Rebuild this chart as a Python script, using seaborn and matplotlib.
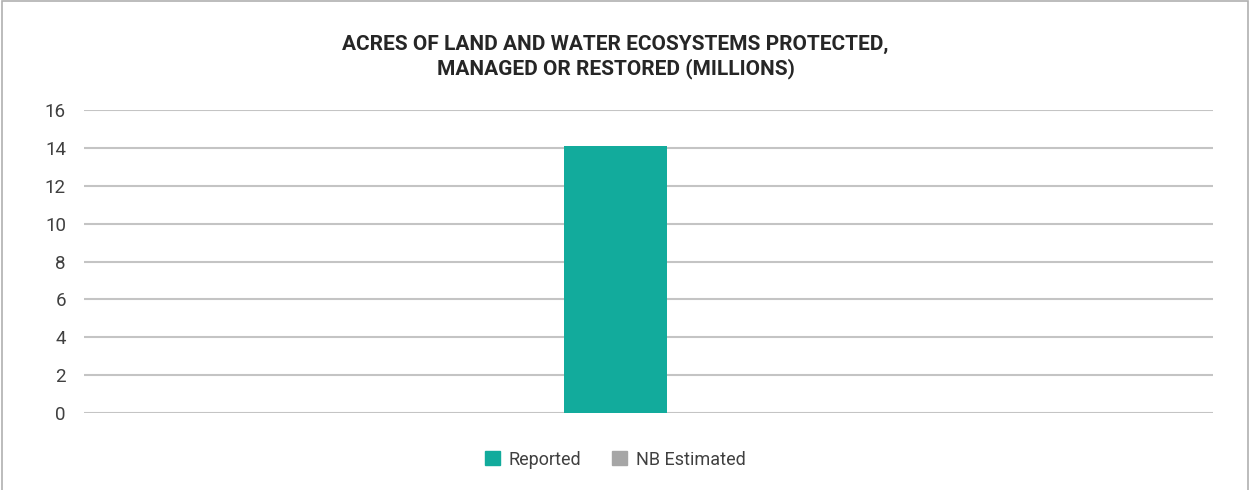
import matplotlib
matplotlib.use('Agg')
import matplotlib.pyplot as plt
import seaborn as sns
import pandas as pd

# data
category = ['Acres']
series = ['Reported', 'NB Estimated']
values = [14.1, 0.0]
colors = ['#12AB9C', '#A6A6A6']
yticks = [0, 2, 4, 6, 8, 10, 12, 14, 16]
title = 'ACRES OF LAND AND WATER ECOSYSTEMS PROTECTED,\nMANAGED OR RESTORED (MILLIONS)'

df = pd.DataFrame({'category': category * len(series), 'series': series, 'value': values})

sns.set_theme(style='white')
plt.rcParams['font.family'] = ['Roboto', 'DejaVu Sans']

fig = plt.figure(figsize=(12.5, 4.9), dpi=100)
ax = fig.add_axes([0.0672, 0.1571, 0.9032, 0.6184])

sns.barplot(data=df, x='category', y='value', hue='series', palette=colors,
            width=0.8, saturation=1, linewidth=0, ax=ax, legend=False)

ax.set_ylim(0, 16)
ax.set_xlim(-2.264, 2.120)
ax.set_yticks(yticks)
ax.set_yticklabels([str(t) for t in yticks], fontsize=13.5, color='#404040')
ax.set_xticks([])
ax.set_xlabel('')
ax.set_ylabel('')
ax.yaxis.grid(True, color='#c4c4c4', linewidth=1.5)
ax.set_axisbelow(True)
ax.tick_params(axis='y', length=0, pad=13)
for s in ax.spines.values():
    s.set_visible(False)

# title and legend are centred over the bar, not the figure
fig.text(0.4924, 0.884, title, ha='center', va='center', fontsize=15,
         fontweight='bold', color='#262626', linespacing=1.3)

handles = [plt.Rectangle((0, 0), 1, 1, color=c) for c in colors]
fig.legend(handles, series, loc='center', bbox_to_anchor=(0.4924, 0.062), ncol=2,
           frameon=False, fontsize=13, handlelength=0.8, handleheight=0.8,
           handletextpad=0.5, columnspacing=1.7, labelcolor='#404040')

border = plt.Rectangle((0.0015, -0.05), 0.997, 1.048, transform=fig.transFigure,
                       fill=False, edgecolor='#b0b0b0', linewidth=1.2)
fig.patches.append(border)

fig.savefig('out.png', dpi=100)
